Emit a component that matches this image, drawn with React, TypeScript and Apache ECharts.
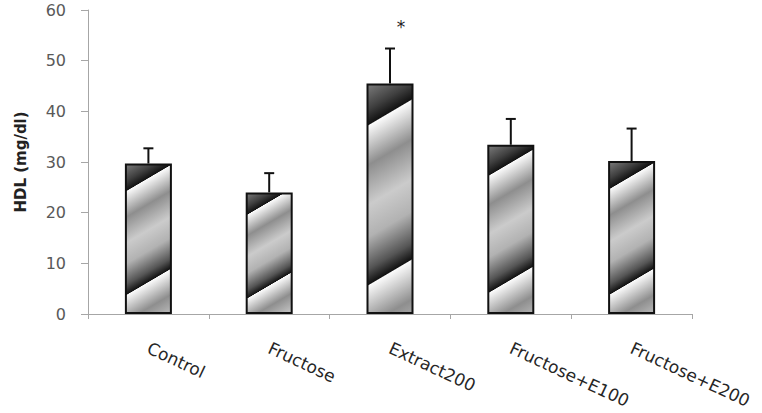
import React, { useEffect, useRef } from "react";
import * as echarts from "echarts";

const categories = ["Control", "Fructose", "Extract200", "Fructose+E100", "Fructose+E200"];
const means = [29.7, 24.0, 45.5, 33.4, 30.2];
const sds = [3.0, 3.8, 6.9, 5.1, 6.4];
const significance = ["", "", "*", "", ""];
const yTicks = { min: 0, max: 60, interval: 10 };

const BAR_W = 47;
const PX_PER_UNIT = 304 / 60;
const SLOPE = 0.57;
const PMAX = 1.3;

const stripeStops: [number, string][] = [
  [0, "#7c7c7c"],
  [0.11, "#404040"],
  [0.178, "#121212"],
  [0.183, "#fbfbfb"],
  [0.355, "#8e8e8e"],
  [0.53, "#cbcbcb"],
  [0.67, "#b2b2b2"],
  [0.81, "#555555"],
  [0.878, "#121212"],
  [0.883, "#fbfbfb"],
  [1.055, "#8e8e8e"],
  [1.23, "#cbcbcb"],
  [1.3, "#c4c4c4"],
];

function stripe(v: number) {
  const k = (SLOPE * BAR_W) / (v * PX_PER_UNIT);
  const T = PMAX / (1 + k * k);
  return new echarts.graphic.LinearGradient(
    0,
    0,
    k * T,
    T,
    stripeStops.map(([p, c]) => ({ offset: p / PMAX, color: c }))
  );
}

export default function App() {
  const ref = useRef<HTMLDivElement>(null);
  useEffect(() => {
    if (!ref.current) return;
    const chart = echarts.init(ref.current, undefined, { renderer: "svg" });
    const font = "'DejaVu Sans', sans-serif";
    chart.setOption({
      animation: false,
      backgroundColor: "#ffffff",
      grid: { left: 88, right: 70, top: 10, bottom: 99 },
      xAxis: {
        type: "category",
        data: categories,
        boundaryGap: true,
        axisLine: { lineStyle: { color: "#a6a6a6", width: 1 } },
        axisTick: { show: true, length: 5, lineStyle: { color: "#a6a6a6" } },
        axisLabel: {
          rotate: -25,
          margin: 33,
          fontFamily: font,
          fontSize: 17,
          color: "#262626",
          interval: 0,
        },
      },
      yAxis: {
        type: "value",
        min: yTicks.min,
        max: yTicks.max,
        interval: yTicks.interval,
        name: "HDL (mg/dl)",
        nameLocation: "middle",
        nameGap: 60,
        nameTextStyle: { fontFamily: font, fontSize: 15, fontWeight: "bold", color: "#222222" },
        splitLine: { show: false },
        axisLine: { show: true, lineStyle: { color: "#a6a6a6", width: 1 } },
        axisTick: { show: true, length: 7, lineStyle: { color: "#a6a6a6" } },
        axisLabel: { margin: 22, fontFamily: font, fontSize: 16, color: "#595959" },
      },
      series: [
        {
          type: "bar",
          barWidth: BAR_W,
          data: means.map((v) => ({
            value: v,
            itemStyle: { color: stripe(v), borderColor: "#111111", borderWidth: 2 },
          })),
          z: 2,
        },
        {
          type: "custom",
          z: 3,
          data: means.map((m, i) => [i, m, m + sds[i]]),
          encode: { x: 0, y: [1, 2] },
          renderItem: (params: any, api: any) => {
            const i = api.value(0);
            const base = api.coord([i, api.value(1)]);
            const top = api.coord([i, api.value(2)]);
            const capHalf = 5;
            const children: any[] = [
              {
                type: "line",
                shape: { x1: base[0], y1: base[1], x2: top[0], y2: top[1] },
                style: { stroke: "#111111", lineWidth: 2 },
              },
              {
                type: "line",
                shape: { x1: top[0] - capHalf, y1: top[1], x2: top[0] + capHalf, y2: top[1] },
                style: { stroke: "#111111", lineWidth: 2 },
              },
            ];
            const sig = significance[params.dataIndex];
            if (sig) {
              children.push({
                type: "text",
                x: top[0] + 11,
                y: top[1] - 22,
                style: {
                  text: sig,
                  fontFamily: font,
                  fontSize: 17,
                  fill: "#222222",
                  align: "center",
                  verticalAlign: "middle",
                },
              });
            }
            return { type: "group", children };
          },
        },
      ],
    });
    return () => chart.dispose();
  }, []);
  return (
    <div
      ref={ref}
      style={{ position: "fixed", left: 0, top: 0, width: 762, height: 413 }}
    />
  );
}
